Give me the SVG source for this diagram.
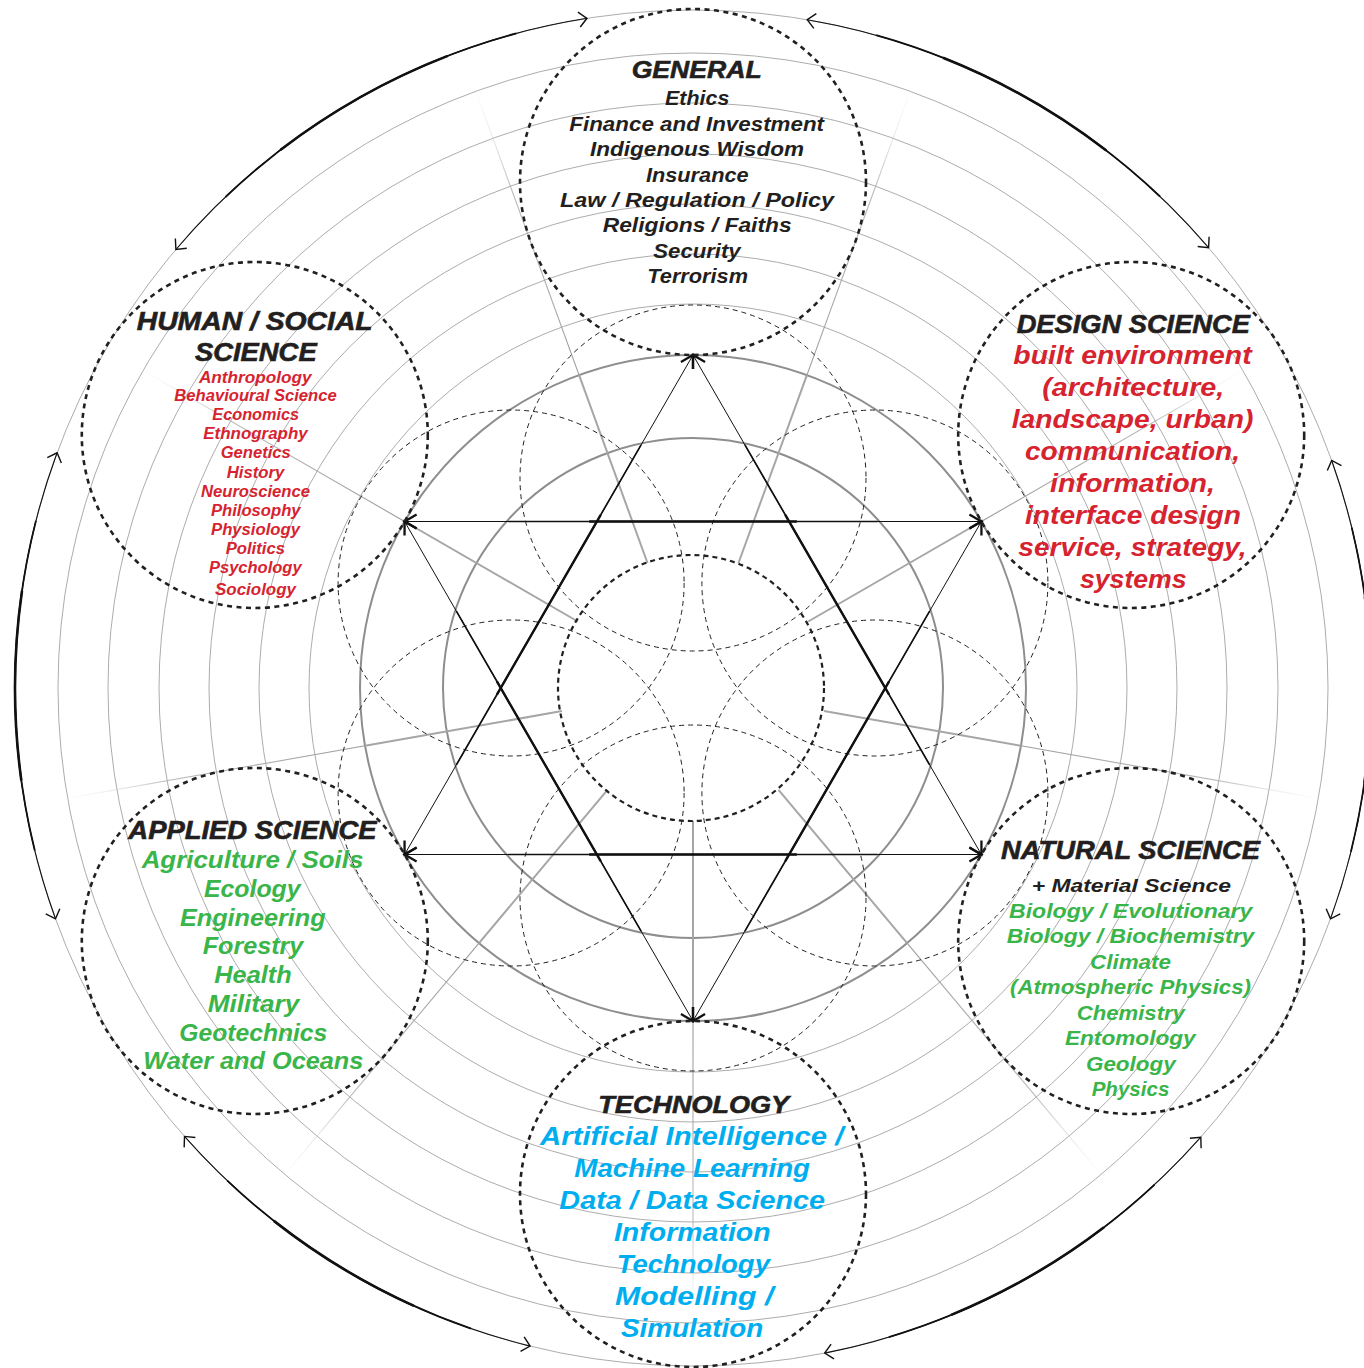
<svg xmlns="http://www.w3.org/2000/svg" width="1364" height="1368" viewBox="0 0 1364 1368">
<style>
.ring{fill:none;stroke:#a3a3a3;stroke-width:0.9}
.ringk{fill:none;stroke:#8e8e8e;stroke-width:2}
.spi{stroke:#a6a6a6;stroke-width:2;fill:none}
.spo{stroke:url(#fade);stroke-width:1.1;fill:none}
.dthin{fill:none;stroke:#231f20;stroke-width:1;stroke-dasharray:5 4}
.dmid{fill:none;stroke:#231f20;stroke-width:2.2;stroke-dasharray:5 4}
.dbig{fill:none;stroke:#231f20;stroke-width:2.6;stroke-dasharray:5 4.5}
.st{fill:none;stroke:#111;stroke-width:1;marker-start:url(#ah);marker-end:url(#ah)}
.st2{fill:none;stroke:#111;stroke-width:1.7;stroke-dasharray:0 18 64 100}
.st3{fill:none;stroke:#111;stroke-width:2.4;stroke-dasharray:0 32 36 100}
.arc{fill:none;stroke:#111;stroke-width:1.1;marker-start:url(#ah2);marker-end:url(#ah2)}
.arc2{fill:none;stroke:#111;stroke-width:1.8;stroke-dasharray:0 15 70 100}
.arc3{fill:none;stroke:#111;stroke-width:2.6;stroke-dasharray:0 30 40 100}
text{font-family:"Liberation Sans","Open Sans",sans-serif;font-style:italic;font-weight:700;text-anchor:middle}
.h{fill:#231f20;stroke:#231f20;stroke-width:0.6}
.k{fill:#231f20}
.r{fill:#d6232f}
.g{fill:#3ab54a}
.b{fill:#00aeef}
</style>
<defs>
<radialGradient id="fade" gradientUnits="userSpaceOnUse" cx="693" cy="688" r="680">
<stop offset="0.48" stop-color="#9a9a9a" stop-opacity="1"/>
<stop offset="0.78" stop-color="#aaaaaa" stop-opacity="0.8"/>
<stop offset="0.97" stop-color="#ffffff" stop-opacity="0"/>
</radialGradient>
<marker id="ah" markerUnits="userSpaceOnUse" viewBox="-16 -16 32 32" markerWidth="32" markerHeight="32" refX="0" refY="0" orient="auto-start-reverse">
<path d="M-12,-7 L0,0 L-12,7" fill="none" stroke="#111" stroke-width="2.3"/>
</marker>
<marker id="ah2" markerUnits="userSpaceOnUse" viewBox="-16 -16 32 32" markerWidth="32" markerHeight="32" refX="0" refY="0" orient="auto-start-reverse">
<path d="M-8,-7.5 L0,0 L-8,7.5" fill="none" stroke="#111" stroke-width="1.4"/>
</marker>
</defs>
<rect width="1364" height="1368" fill="#ffffff"/>

<g id="rings">
<circle class="ring" cx="693" cy="688" r="384"/>
<circle class="ring" cx="693" cy="688" r="434"/>
<circle class="ring" cx="693" cy="688" r="484"/>
<circle class="ring" cx="693" cy="688" r="534"/>
<circle class="ring" cx="693" cy="688" r="585"/>
<circle class="ring" cx="693" cy="688" r="635"/>
<circle class="ring" cx="693" cy="688" r="678"/>
<circle class="ringk" cx="693" cy="688" r="250"/>
<circle class="ringk" cx="693" cy="688" r="333"/>
</g>

<g id="spokes">
<path class="spi" d="M693,821 L693,1021"/>
<path class="spi" d="M778.5,789.9 L907.1,943.1"/>
<path class="spi" d="M824,711.1 L1020.9,745.8"/>
<path class="spi" d="M808.2,621.5 L981.4,521.5"/>
<path class="spi" d="M738.5,563 L806.9,375.1"/>
<path class="spi" d="M647.5,563 L579.1,375.1"/>
<path class="spi" d="M577.8,621.5 L404.6,521.5"/>
<path class="spi" d="M562,711.1 L365.1,745.8"/>
<path class="spi" d="M607.5,789.9 L479,943.1"/>
<path class="spo" d="M693,1021 L693,1338"/>
<path class="spo" d="M907.1,943.1 L1110.8,1185.9"/>
<path class="spo" d="M1020.9,745.8 L1333.1,800.9"/>
<path class="spo" d="M981.4,521.5 L1255.9,363"/>
<path class="spo" d="M806.9,375.1 L915.3,77.2"/>
<path class="spo" d="M579.1,375.1 L470.7,77.2"/>
<path class="spo" d="M404.6,521.5 L130.1,363"/>
<path class="spo" d="M365.1,745.8 L52.9,800.9"/>
<path class="spo" d="M479,943.1 L275.2,1185.9"/>
</g>

<g id="inner-circles">
<circle class="dthin" cx="693" cy="478" r="173"/>
<circle class="dthin" cx="874.9" cy="583" r="173"/>
<circle class="dthin" cx="874.9" cy="793" r="173"/>
<circle class="dthin" cx="693" cy="898" r="173"/>
<circle class="dthin" cx="511.1" cy="793" r="173"/>
<circle class="dthin" cx="511.1" cy="583" r="173"/>
<circle class="dmid" cx="691" cy="688" r="133"/>
</g>

<g id="connectors">
<path class="st" d="M404.6,521.5 L981.4,521.5"/>
<path class="st" d="M404.6,854.5 L981.4,854.5"/>
<path class="st" d="M693,355 L404.6,854.5"/>
<path class="st" d="M693,355 L981.4,854.5"/>
<path class="st" d="M693,1021 L404.6,521.5"/>
<path class="st" d="M693,1021 L981.4,521.5"/>
<path class="st2" pathLength="100" d="M404.6,521.5 L981.4,521.5"/>
<path class="st2" pathLength="100" d="M404.6,854.5 L981.4,854.5"/>
<path class="st2" pathLength="100" d="M693,355 L404.6,854.5"/>
<path class="st2" pathLength="100" d="M693,355 L981.4,854.5"/>
<path class="st2" pathLength="100" d="M693,1021 L404.6,521.5"/>
<path class="st2" pathLength="100" d="M693,1021 L981.4,521.5"/>
<path class="st3" pathLength="100" d="M404.6,521.5 L981.4,521.5"/>
<path class="st3" pathLength="100" d="M404.6,854.5 L981.4,854.5"/>
<path class="st3" pathLength="100" d="M693,355 L404.6,854.5"/>
<path class="st3" pathLength="100" d="M693,355 L981.4,854.5"/>
<path class="st3" pathLength="100" d="M693,1021 L404.6,521.5"/>
<path class="st3" pathLength="100" d="M693,1021 L981.4,521.5"/>

<path class="arc" d="M807.2,19.7 A678,678 0 0,1 1208.6,247.7"/>
<path class="arc" d="M1331.7,460.5 A678,678 0 0,1 1330.5,918.8"/>
<path class="arc" d="M1200.8,1137.2 A678,678 0 0,1 824.7,1353.1"/>
<path class="arc" d="M530.1,1346.1 A678,678 0 0,1 184.5,1136.4"/>
<path class="arc" d="M55.5,918.8 A678,678 0 0,1 57.1,452.8"/>
<path class="arc" d="M175.9,249.5 A678,678 0 0,1 587,18.3"/>
<path class="arc2" pathLength="100" d="M807.2,19.7 A678,678 0 0,1 1208.6,247.7"/>
<path class="arc2" pathLength="100" d="M1331.7,460.5 A678,678 0 0,1 1330.5,918.8"/>
<path class="arc2" pathLength="100" d="M1200.8,1137.2 A678,678 0 0,1 824.7,1353.1"/>
<path class="arc2" pathLength="100" d="M530.1,1346.1 A678,678 0 0,1 184.5,1136.4"/>
<path class="arc2" pathLength="100" d="M55.5,918.8 A678,678 0 0,1 57.1,452.8"/>
<path class="arc2" pathLength="100" d="M175.9,249.5 A678,678 0 0,1 587,18.3"/>
<path class="arc3" pathLength="100" d="M807.2,19.7 A678,678 0 0,1 1208.6,247.7"/>
<path class="arc3" pathLength="100" d="M1331.7,460.5 A678,678 0 0,1 1330.5,918.8"/>
<path class="arc3" pathLength="100" d="M1200.8,1137.2 A678,678 0 0,1 824.7,1353.1"/>
<path class="arc3" pathLength="100" d="M530.1,1346.1 A678,678 0 0,1 184.5,1136.4"/>
<path class="arc3" pathLength="100" d="M55.5,918.8 A678,678 0 0,1 57.1,452.8"/>
<path class="arc3" pathLength="100" d="M175.9,249.5 A678,678 0 0,1 587,18.3"/>
</g>

<g id="general">
<circle class="dbig" cx="693" cy="182" r="173"/>
<text class="h" x="696.7" y="78.3" font-size="24" textLength="130" lengthAdjust="spacingAndGlyphs">GENERAL</text>
<text class="k" x="697.2" y="105" font-size="20" textLength="64.3" lengthAdjust="spacingAndGlyphs">Ethics</text>
<text class="k" x="696.7" y="130.7" font-size="20" textLength="254.7" lengthAdjust="spacingAndGlyphs">Finance and Investment</text>
<text class="k" x="697" y="156" font-size="20" textLength="214" lengthAdjust="spacingAndGlyphs">Indigenous Wisdom</text>
<text class="k" x="697.3" y="181.7" font-size="20" textLength="102.7" lengthAdjust="spacingAndGlyphs">Insurance</text>
<text class="k" x="697" y="206.7" font-size="20" textLength="274" lengthAdjust="spacingAndGlyphs">Law / Regulation / Policy</text>
<text class="k" x="697.2" y="232.3" font-size="20" textLength="189" lengthAdjust="spacingAndGlyphs">Religions / Faiths</text>
<text class="k" x="697" y="258.3" font-size="20" textLength="87.4" lengthAdjust="spacingAndGlyphs">Security</text>
<text class="k" x="697.7" y="283.3" font-size="20" textLength="100.7" lengthAdjust="spacingAndGlyphs">Terrorism</text>
</g>

<g id="human-social-science">
<circle class="dbig" cx="254.8" cy="435" r="173"/>
<text class="h" x="254.7" y="330" font-size="26" textLength="236" lengthAdjust="spacingAndGlyphs">HUMAN / SOCIAL</text>
<text class="h" x="255.8" y="361" font-size="26" textLength="121.7" lengthAdjust="spacingAndGlyphs">SCIENCE</text>
<text class="r" x="255.3" y="382.7" font-size="16" textLength="112.7" lengthAdjust="spacingAndGlyphs">Anthropology</text>
<text class="r" x="255.5" y="401" font-size="16" textLength="162.3" lengthAdjust="spacingAndGlyphs">Behavioural Science</text>
<text class="r" x="255.7" y="420" font-size="16" textLength="86.7" lengthAdjust="spacingAndGlyphs">Economics</text>
<text class="r" x="255.5" y="439" font-size="16" textLength="104.3" lengthAdjust="spacingAndGlyphs">Ethnography</text>
<text class="r" x="255.7" y="457.7" font-size="16" textLength="70" lengthAdjust="spacingAndGlyphs">Genetics</text>
<text class="r" x="255.5" y="477.7" font-size="16" textLength="57.7" lengthAdjust="spacingAndGlyphs">History</text>
<text class="r" x="255.5" y="496.7" font-size="16" textLength="109" lengthAdjust="spacingAndGlyphs">Neuroscience</text>
<text class="r" x="255.8" y="515.7" font-size="16" textLength="89.7" lengthAdjust="spacingAndGlyphs">Philosophy</text>
<text class="r" x="255.5" y="535" font-size="16" textLength="89" lengthAdjust="spacingAndGlyphs">Physiology</text>
<text class="r" x="255.3" y="554" font-size="16" textLength="59.3" lengthAdjust="spacingAndGlyphs">Politics</text>
<text class="r" x="255.3" y="573.3" font-size="16" textLength="92.7" lengthAdjust="spacingAndGlyphs">Psychology</text>
<text class="r" x="255.5" y="595" font-size="16" textLength="81" lengthAdjust="spacingAndGlyphs">Sociology</text>
</g>

<g id="design-science">
<circle class="dbig" cx="1131.2" cy="435" r="173"/>
<text class="h" x="1133.3" y="333.3" font-size="26" textLength="233.3" lengthAdjust="spacingAndGlyphs">DESIGN SCIENCE</text>
<text class="r" x="1132.5" y="364" font-size="25" textLength="238.3" lengthAdjust="spacingAndGlyphs">built environment</text>
<text class="r" x="1133.3" y="396" font-size="25" textLength="182" lengthAdjust="spacingAndGlyphs">(architecture,</text>
<text class="r" x="1132.5" y="428" font-size="25" textLength="241.7" lengthAdjust="spacingAndGlyphs">landscape, urban)</text>
<text class="r" x="1132.5" y="460" font-size="25" textLength="215" lengthAdjust="spacingAndGlyphs">communication,</text>
<text class="r" x="1132.5" y="492" font-size="25" textLength="165" lengthAdjust="spacingAndGlyphs">information,</text>
<text class="r" x="1133" y="524" font-size="25" textLength="216" lengthAdjust="spacingAndGlyphs">interface design</text>
<text class="r" x="1132.5" y="556" font-size="25" textLength="228.3" lengthAdjust="spacingAndGlyphs">service, strategy,</text>
<text class="r" x="1133.3" y="588" font-size="25" textLength="106.7" lengthAdjust="spacingAndGlyphs">systems</text>
</g>

<g id="applied-science">
<circle class="dbig" cx="254.8" cy="941" r="173"/>
<text class="h" x="252.5" y="839" font-size="25" textLength="248.3" lengthAdjust="spacingAndGlyphs">APPLIED SCIENCE</text>
<text class="g" x="252.5" y="868.3" font-size="23" textLength="221.7" lengthAdjust="spacingAndGlyphs">Agriculture / Soils</text>
<text class="g" x="252.3" y="897" font-size="23" textLength="96.7" lengthAdjust="spacingAndGlyphs">Ecology</text>
<text class="g" x="252.8" y="925.7" font-size="23" textLength="145.7" lengthAdjust="spacingAndGlyphs">Engineering</text>
<text class="g" x="253" y="954.4" font-size="23" textLength="100.7" lengthAdjust="spacingAndGlyphs">Forestry</text>
<text class="g" x="253" y="983.1" font-size="23" textLength="77.3" lengthAdjust="spacingAndGlyphs">Health</text>
<text class="g" x="253.5" y="1011.8" font-size="23" textLength="91.7" lengthAdjust="spacingAndGlyphs">Military</text>
<text class="g" x="253.3" y="1040.5" font-size="23" textLength="148" lengthAdjust="spacingAndGlyphs">Geotechnics</text>
<text class="g" x="253.3" y="1069" font-size="23" textLength="220" lengthAdjust="spacingAndGlyphs">Water and Oceans</text>
</g>

<g id="natural-science">
<circle class="dbig" cx="1131.2" cy="941" r="173"/>
<text class="h" x="1130.5" y="859" font-size="25" textLength="259" lengthAdjust="spacingAndGlyphs">NATURAL SCIENCE</text>
<text class="k" x="1131.3" y="891.7" font-size="19" textLength="199.3" lengthAdjust="spacingAndGlyphs">+ Material Science</text>
<text class="g" x="1130.7" y="917.7" font-size="20" textLength="243.3" lengthAdjust="spacingAndGlyphs">Biology / Evolutionary</text>
<text class="g" x="1130.5" y="943" font-size="20" textLength="247.7" lengthAdjust="spacingAndGlyphs">Biology / Biochemistry</text>
<text class="g" x="1130.5" y="968.5" font-size="20" textLength="81" lengthAdjust="spacingAndGlyphs">Climate</text>
<text class="g" x="1130.5" y="994" font-size="20" textLength="241" lengthAdjust="spacingAndGlyphs">(Atmospheric Physics)</text>
<text class="g" x="1130.8" y="1019.5" font-size="20" textLength="108.3" lengthAdjust="spacingAndGlyphs">Chemistry</text>
<text class="g" x="1130.3" y="1045" font-size="20" textLength="130.7" lengthAdjust="spacingAndGlyphs">Entomology</text>
<text class="g" x="1130.8" y="1070.7" font-size="20" textLength="89.7" lengthAdjust="spacingAndGlyphs">Geology</text>
<text class="g" x="1130.5" y="1096" font-size="20" textLength="77.7" lengthAdjust="spacingAndGlyphs">Physics</text>
</g>

<g id="technology">
<circle class="dbig" cx="693" cy="1194" r="173"/>
<text class="h" x="693.7" y="1113.3" font-size="24" textLength="190.7" lengthAdjust="spacingAndGlyphs">TECHNOLOGY</text>
<text class="b" x="691.7" y="1145" font-size="25" textLength="303.3" lengthAdjust="spacingAndGlyphs">Artificial Intelligence /</text>
<text class="b" x="692.2" y="1177" font-size="25" textLength="235.7" lengthAdjust="spacingAndGlyphs">Machine Learning</text>
<text class="b" x="692.2" y="1209" font-size="25" textLength="265.7" lengthAdjust="spacingAndGlyphs">Data / Data Science</text>
<text class="b" x="692.3" y="1241" font-size="25" textLength="156.7" lengthAdjust="spacingAndGlyphs">Information</text>
<text class="b" x="693.3" y="1273" font-size="25" textLength="153.3" lengthAdjust="spacingAndGlyphs">Technology</text>
<text class="b" x="694.2" y="1305" font-size="25" textLength="158.3" lengthAdjust="spacingAndGlyphs">Modelling /</text>
<text class="b" x="692.2" y="1337" font-size="25" textLength="142.3" lengthAdjust="spacingAndGlyphs">Simulation</text>
</g>
</svg>
